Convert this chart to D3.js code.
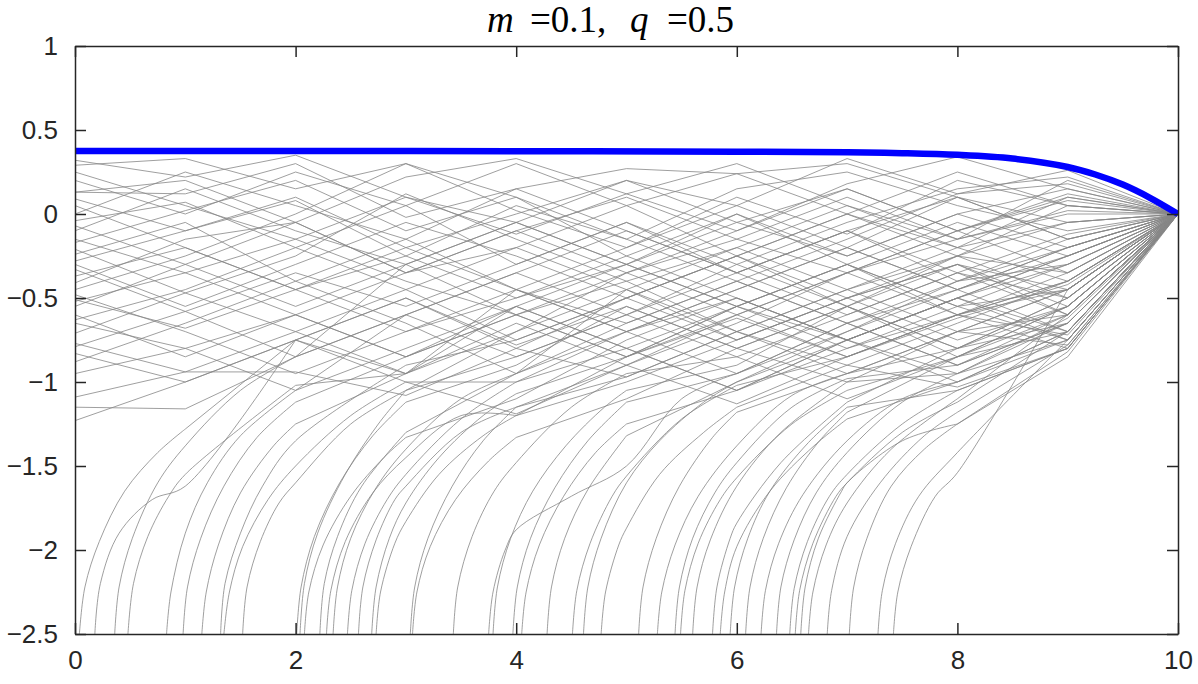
<!DOCTYPE html>
<html>
<head>
<meta charset="utf-8">
<script src="https://cdn.jsdelivr.net/npm/d3@7"></script>
<style>
  body { margin: 0; background: #fff; }
  svg { display: block; }
</style>
</head>
<body>
<div id="chart"></div>
<script>
var xTicks = [0, 2, 4, 6, 8, 10];
var yTicks = [1, 0.5, 0, -0.5, -1, -1.5, -2, -2.5];

// sample times for the paths that start inside the window
var steps = [0, 1, 2, 3, 4, 5, 6, 7, 8, 9, 10];

// blue curve
var meanX = [0, 2, 4, 6, 7, 7.5, 8, 8.5, 9, 9.25, 9.5, 9.75, 10];
var meanY = [0.375, 0.375, 0.374, 0.371, 0.367, 0.362, 0.352, 0.33, 0.28, 0.235, 0.175, 0.095, 0.0];

// grey paths that are already in view at t = 0 (value at each step)
var walks = [
  [0.32, 0.22, 0.35, 0.10, -0.05, 0.20, 0.05, 0.33, 0.12, 0.26, 0],
  [0.29, 0.33, 0.15, 0.30, 0.02, -0.20, 0.10, -0.12, 0.20, 0.05, 0],
  [0.13, 0.20, -0.05, 0.22, 0.33, 0.12, -0.10, 0.18, 0.34, 0.15, 0],
  [0.13, 0.12, 0.30, -0.02, 0.15, 0.27, 0.24, 0.00, -0.20, 0.10, 0],
  [0.09, -0.10, 0.08, -0.25, 0.05, -0.15, 0.15, 0.25, 0.05, -0.10, 0],
  [-0.04, 0.07, -0.20, 0.05, -0.30, -0.05, -0.30, -0.05, 0.15, 0.22, 0],
  [-0.07, -0.30, -0.05, -0.35, -0.10, 0.10, -0.15, 0.10, -0.15, 0.02, 0],
  [-0.17, 0.02, 0.20, -0.10, 0.10, -0.25, 0.00, -0.30, -0.05, -0.25, 0],
  [-0.21, -0.47, -0.25, 0.12, -0.15, -0.40, -0.20, -0.45, -0.25, -0.05, 0],
  [-0.24, -0.05, -0.40, -0.15, -0.45, -0.20, 0.05, -0.20, 0.10, -0.15, 0],
  [-0.28, -0.10, 0.10, -0.20, 0.00, 0.20, -0.05, 0.15, -0.10, 0.08, 0],
  [-0.33, -0.58, -0.35, -0.55, -0.30, -0.05, -0.35, -0.10, -0.40, -0.30, 0],
  [-0.37, -0.20, -0.45, -0.25, -0.50, -0.30, -0.55, -0.30, -0.55, -0.45, 0],
  [-0.41, -0.15, -0.05, -0.35, -0.20, 0.05, -0.25, -0.50, -0.30, -0.55, 0],
  [-0.51, -0.68, -0.45, -0.70, -0.45, -0.65, -0.40, -0.65, -0.45, -0.20, 0],
  [-0.55, -0.30, -0.55, -0.30, -0.60, -0.40, -0.70, -0.45, -0.70, -0.60, 0],
  [-0.63, -0.45, -0.20, -0.45, -0.75, -0.50, -0.25, -0.55, -0.80, -0.65, 0],
  [-0.65, -0.80, -0.60, -0.85, -0.55, -0.80, -0.55, -0.30, -0.60, -0.40, 0],
  [-0.71, -0.47, -0.70, -0.45, -0.20, -0.45, -0.75, -0.50, -0.25, -0.35, 0],
  [-0.77, -0.94, -0.70, -0.95, -0.70, -0.45, -0.70, -0.95, -0.70, -0.78, 0],
  [-0.79, -0.58, -0.85, -0.60, -0.35, -0.60, -0.35, -0.60, -0.35, -0.50, 0],
  [-0.83, -1.00, -0.75, -0.50, -0.78, -0.55, -0.80, -0.55, -0.85, -0.70, 0],
  [-0.95, -0.80, -1.05, -0.80, -0.55, -0.80, -1.05, -0.80, -0.60, -0.72, 0],
  [-1.09, -0.94, -0.94, -1.08, -0.80, -0.97, -0.70, -0.90, -1.03, -0.80, 0],
  [-1.15, -1.16, -0.85, -0.60, -0.85, -0.60, -0.85, -1.10, -0.85, -0.55, 0],
  [-1.23, -1.00, -0.75, -1.00, -1.19, -0.90, -1.13, -0.85, -0.60, -0.45, 0],
  [0.20, 0.00, 0.25, 0.05, 0.30, 0.05, 0.24, 0.30, 0.10, -0.05, 0],
  [-0.45, -0.25, 0.00, 0.30, 0.10, -0.15, -0.40, -0.15, 0.12, 0.18, 0],
  [0.05, -0.20, -0.45, -0.20, -0.45, -0.70, -0.45, -0.20, -0.45, -0.25, 0],
  [-0.60, -0.85, -0.60, -0.35, -0.10, -0.35, -0.10, 0.15, -0.10, 0.12, 0],
  [0.25, 0.05, -0.15, 0.10, -0.12, 0.12, 0.30, 0.05, -0.15, 0.20, 0],
  [-0.10, 0.15, -0.10, -0.30, -0.05, -0.30, -0.05, -0.25, 0.00, -0.20, 0],
  [-0.30, -0.55, -0.30, -0.05, -0.25, -0.50, -0.25, 0.00, 0.25, 0.05, 0],
  [-0.48, -0.70, -0.95, -0.70, -0.50, -0.25, -0.50, -0.75, -0.50, -0.30, 0],
  [0.00, 0.25, 0.05, -0.15, 0.15, -0.10, -0.35, -0.10, -0.35, -0.12, 0],
  [-0.15, -0.35, -0.60, -0.85, -0.60, -0.85, -0.62, -0.85, -0.62, -0.42, 0],
  [-0.52, -0.35, -0.15, -0.40, -0.60, -0.35, -0.15, -0.35, -0.15, 0.00, 0],
  [-0.88, -0.65, -0.40, -0.65, -0.95, -0.70, -0.50, -0.75, -0.95, -0.62, 0]
];

// grey paths that come up through the bottom edge: [t, value] points
var risers = [
  [[0.04,-2.5],[0.09,-2.22],[0.22,-1.95],[0.45,-1.65],[0.75,-1.42],[1,-1.28],[2,-0.75],[3,-0.5],[4,-0.8],[5,-0.5],[6,-0.75],[7,-0.5],[8,-0.3],[9,-0.6],[10,0]],
  [[0.18,-2.5],[0.23,-2.2],[0.4,-1.9],[0.7,-1.7],[1,-1.62],[2,-0.75],[3,-0.95],[4,-0.45],[5,-0.7],[6,-0.45],[7,-0.2],[8,-0.45],[9,-0.2],[10,0]],
  [[0.36,-2.5],[0.4,-2.22],[0.52,-1.93],[0.75,-1.6],[1,-1.38],[1.5,-1.05],[2,-0.85],[3,-0.3],[4,-0.05],[5,-0.3],[6,0.0],[7,-0.25],[8,0.0],[9,0.15],[10,0]],
  [[0.48,-2.5],[0.53,-2.2],[0.66,-1.92],[0.85,-1.68],[1,-1.55],[2,-1.02],[3,-0.95],[4,-0.65],[5,-0.9],[6,-0.6],[7,-0.85],[8,-0.6],[9,-0.35],[10,0]],
  [[0.83,-2.5],[0.87,-2.25],[1,-1.9],[1.2,-1.6],[1.5,-1.32],[2,-1.05],[3,-0.6],[4,-0.35],[5,-0.1],[6,-0.35],[7,-0.1],[8,0.1],[9,-0.15],[10,0]],
  [[0.98,-2.5],[1.02,-2.22],[1.14,-1.93],[1.35,-1.62],[1.65,-1.33],[2,-1.12],[3,-0.85],[4,-0.6],[5,-0.85],[6,-0.55],[7,-0.3],[8,-0.55],[9,-0.75],[10,0]],
  [[1.15,-2.5],[1.19,-2.25],[1.3,-1.97],[1.5,-1.66],[1.8,-1.38],[2,-1.25],[3,-0.95],[4,-0.55],[5,-0.3],[6,-0.55],[7,-0.75],[8,-0.5],[9,-0.25],[10,0]],
  [[1.32,-2.5],[1.36,-2.2],[1.5,-1.9],[1.7,-1.62],[2,-1.35],[3,-0.9],[4,-0.75],[5,-0.5],[6,-0.25],[7,0.0],[8,-0.25],[9,0.05],[10,0]],
  [[1.35,-2.5],[1.4,-2.25],[1.52,-1.98],[1.75,-1.7],[2,-1.5],[2.5,-1.2],[3,-1.0],[4,-1.0],[5,-0.7],[6,-0.95],[7,-0.65],[8,-0.9],[9,-0.6],[10,0]],
  [[1.52,-2.5],[1.56,-2.22],[1.68,-1.95],[1.85,-1.72],[2,-1.6],[2.5,-1.25],[3,-1.05],[4,-0.85],[5,-0.6],[6,-0.3],[7,-0.55],[8,-0.3],[9,-0.45],[10,0]],
  [[2.01,-2.5],[2.05,-2.22],[2.17,-1.92],[2.4,-1.6],[2.7,-1.32],[3,-1.12],[4,-0.9],[5,-0.55],[6,-0.8],[7,-0.55],[8,-0.8],[9,-0.5],[10,0]],
  [[2.04,-2.5],[2.08,-2.2],[2.2,-1.9],[2.45,-1.55],[2.75,-1.25],[3,-1.05],[4,-0.7],[5,-0.35],[6,-0.6],[7,-0.35],[8,-0.1],[9,-0.35],[10,0]],
  [[2.08,-2.5],[2.12,-2.25],[2.25,-1.97],[2.5,-1.68],[2.8,-1.45],[3,-1.33],[4,-1.1],[5,-0.75],[6,-0.5],[7,-0.75],[8,-0.5],[9,-0.7],[10,0]],
  [[2.22,-2.5],[2.26,-2.2],[2.38,-1.92],[2.6,-1.62],[3,-1.3],[4,-0.95],[5,-0.45],[6,-0.2],[7,0.05],[8,-0.2],[9,-0.05],[10,0]],
  [[2.28,-2.5],[2.32,-2.24],[2.45,-1.95],[2.7,-1.66],[3,-1.45],[3.5,-1.2],[4,-1.2],[5,-0.85],[6,-0.6],[7,-0.35],[8,-0.6],[9,-0.4],[10,0]],
  [[2.34,-2.5],[2.38,-2.22],[2.5,-1.93],[2.72,-1.64],[3,-1.4],[3.5,-1.1],[4,-0.95],[5,-0.65],[6,-0.4],[7,-0.65],[8,-0.4],[9,-0.15],[10,0]],
  [[2.47,-2.5],[2.51,-2.24],[2.63,-1.96],[2.83,-1.7],[3,-1.55],[3.5,-1.22],[4,-1.0],[5,-0.8],[6,-1.05],[7,-0.75],[8,-0.5],[9,-0.75],[10,0]],
  [[2.57,-2.5],[2.61,-2.22],[2.73,-1.94],[2.9,-1.7],[3,-1.62],[3.5,-1.3],[4,-1.15],[5,-0.97],[6,-0.7],[7,-0.45],[8,-0.2],[9,-0.4],[10,0]],
  [[2.69,-2.5],[2.73,-2.22],[2.85,-1.93],[3,-1.72],[3.3,-1.45],[3.7,-1.2],[4,-1.07],[5,-0.85],[6,-0.55],[7,-0.8],[8,-0.55],[9,-0.3],[10,0]],
  [[2.73,-2.5],[2.77,-2.25],[2.9,-1.96],[3,-1.83],[3.3,-1.55],[3.7,-1.32],[4,-1.2],[5,-1.0],[6,-0.75],[7,-0.5],[8,-0.75],[9,-0.55],[10,0]],
  [[3.04,-2.5],[3.08,-2.22],[3.2,-1.93],[3.42,-1.62],[3.7,-1.35],[4,-1.15],[5,-0.9],[6,-0.65],[7,-0.35],[8,-0.1],[9,0.1],[10,0]],
  [[3.06,-2.5],[3.1,-2.25],[3.22,-1.98],[3.45,-1.7],[3.75,-1.47],[4,-1.33],[5,-1.1],[6,-0.8],[7,-1.0],[8,-0.7],[9,-0.45],[10,0]],
  [[3.43,-2.5],[3.47,-2.22],[3.6,-1.92],[3.8,-1.65],[4,-1.48],[4.5,-1.15],[5,-0.95],[6,-0.85],[7,-0.6],[8,-0.35],[9,-0.6],[10,0]],
  [[3.75,-2.5],[3.79,-2.25],[3.9,-2.0],[4,-1.88],[4.5,-1.68],[5,-1.5],[5.5,-1.1],[6,-0.95],[7,-0.65],[8,-0.9],[9,-0.65],[10,0]],
  [[3.79,-2.5],[3.83,-2.22],[3.95,-1.93],[4.15,-1.65],[4.45,-1.38],[4.8,-1.15],[5,-1.05],[6,-0.9],[7,-0.55],[8,-0.25],[9,-0.5],[10,0]],
  [[3.97,-2.5],[4.01,-2.22],[4.13,-1.93],[4.35,-1.63],[4.65,-1.35],[5,-1.12],[6,-0.95],[7,-0.7],[8,-0.45],[9,-0.7],[10,0]],
  [[4.05,-2.5],[4.09,-2.25],[4.21,-1.97],[4.43,-1.68],[4.72,-1.42],[5,-1.25],[6,-1.05],[7,-0.75],[8,-1.0],[9,-0.7],[10,0]],
  [[4.28,-2.5],[4.32,-2.22],[4.44,-1.93],[4.65,-1.64],[5,-1.32],[6,-1.0],[7,-0.7],[8,-0.4],[9,-0.2],[10,0]],
  [[4.51,-2.5],[4.55,-2.24],[4.67,-1.96],[4.87,-1.68],[5,-1.56],[5.5,-1.22],[6,-1.02],[7,-0.85],[8,-0.6],[9,-0.8],[10,0]],
  [[4.61,-2.5],[4.65,-2.22],[4.77,-1.93],[5,-1.6],[5.3,-1.35],[5.7,-1.12],[6,-1.0],[7,-0.75],[8,-0.5],[9,-0.25],[10,0]],
  [[4.77,-2.5],[4.81,-2.25],[4.93,-1.97],[5,-1.87],[5.3,-1.55],[5.7,-1.3],[6,-1.15],[7,-0.9],[8,-0.65],[9,-0.4],[10,0]],
  [[5.11,-2.5],[5.15,-2.22],[5.27,-1.93],[5.48,-1.62],[5.78,-1.33],[6,-1.18],[7,-0.95],[8,-0.7],[9,-0.45],[10,0]],
  [[5.28,-2.5],[5.32,-2.25],[5.44,-1.97],[5.65,-1.68],[6,-1.38],[6.5,-1.08],[7,-0.95],[8,-0.8],[9,-0.55],[10,0]],
  [[5.44,-2.5],[5.48,-2.22],[5.6,-1.93],[5.8,-1.66],[6,-1.48],[6.5,-1.15],[7,-0.98],[8,-0.9],[9,-0.65],[10,0]],
  [[5.49,-2.5],[5.53,-2.24],[5.65,-1.96],[5.85,-1.7],[6,-1.57],[6.5,-1.25],[7,-1.05],[8,-0.85],[9,-0.6],[10,0]],
  [[5.60,-2.5],[5.64,-2.22],[5.76,-1.94],[6,-1.62],[6.4,-1.3],[7,-1.0],[8,-0.95],[9,-0.75],[10,0]],
  [[5.78,-2.5],[5.82,-2.22],[5.94,-1.93],[6,-1.84],[6.4,-1.48],[7,-1.12],[8,-0.8],[9,-0.5],[10,0]],
  [[5.85,-2.5],[5.89,-2.25],[6,-1.98],[6.3,-1.65],[6.7,-1.38],[7,-1.22],[8,-1.0],[9,-0.7],[10,0]],
  [[5.94,-2.5],[5.98,-2.22],[6.1,-1.93],[6.3,-1.65],[6.65,-1.36],[7,-1.15],[8,-1.05],[9,-0.8],[10,0]],
  [[6.08,-2.5],[6.12,-2.22],[6.24,-1.93],[6.45,-1.63],[6.75,-1.35],[7,-1.18],[8,-0.85],[9,-0.55],[10,0]],
  [[6.22,-2.5],[6.26,-2.24],[6.38,-1.96],[6.6,-1.67],[7,-1.35],[7.5,-1.1],[8,-1.0],[9,-0.75],[10,0]],
  [[6.36,-2.5],[6.4,-2.22],[6.52,-1.94],[6.72,-1.66],[7,-1.42],[7.5,-1.12],[8,-0.95],[9,-0.65],[10,0]],
  [[6.48,-2.5],[6.52,-2.23],[6.64,-1.95],[6.84,-1.68],[7,-1.55],[7.5,-1.25],[8,-1.05],[9,-0.8],[10,0]],
  [[6.53,-2.5],[6.57,-2.24],[6.69,-1.96],[6.9,-1.68],[7,-1.6],[7.5,-1.3],[8,-1.12],[9,-0.7],[10,0]],
  [[6.58,-2.5],[6.62,-2.22],[6.74,-1.93],[6.95,-1.65],[7,-1.6],[7.5,-1.35],[8,-1.25],[9,-0.85],[10,0]],
  [[6.65,-2.5],[6.69,-2.25],[6.81,-1.97],[7,-1.72],[7.4,-1.4],[8,-1.1],[9,-0.6],[10,0]],
  [[6.82,-2.5],[6.86,-2.24],[7,-1.92],[7.3,-1.6],[7.7,-1.32],[8,-1.18],[9,-0.78],[10,0]],
  [[7.02,-2.5],[7.06,-2.22],[7.18,-1.93],[7.4,-1.62],[7.7,-1.4],[8,-1.25],[9,-0.82],[10,0]],
  [[7.28,-2.5],[7.32,-2.24],[7.44,-1.96],[7.65,-1.68],[8,-1.42],[9,-0.75],[10,0]],
  [[7.42,-2.5],[7.46,-2.25],[7.58,-1.98],[7.8,-1.68],[8,-1.54],[9,-0.45],[10,0]]
];

// title pieces and where each one starts
var titleText = ['m', '=0.1,', 'q', '=0.5'];
var titleX = [487, 530, 630, 667];
var titleItalic = [true, false, true, false];

var margin = {top: 46, right: 20, bottom: 50, left: 75};
var width = 1103;
var height = 588;

var svg = d3.select('#chart').append('svg')
    .attr('width', 1198)
    .attr('height', 684);

var g = svg.append('g')
    .attr('transform', `translate(${margin.left}, ${margin.top})`);

var xScale = d3.scaleLinear().domain([0, 10]).range([0, width]);
var yScale = d3.scaleLinear().domain([-2.5, 1]).range([height, 0]);

g.append('clipPath').attr('id', 'plot-clip')
  .append('rect').attr('width', width).attr('height', height);

var plot = g.append('g').attr('clip-path', 'url(#plot-clip)');

var straight = d3.line()
    .x(d => xScale(d[0]))
    .y(d => yScale(d[1]));

var bent = d3.line()
    .x(d => xScale(d[0]))
    .y(d => yScale(d[1]))
    .curve(d3.curveCatmullRom.alpha(0.5));

var grey = '#878787';

walks.forEach(function(w) {
  plot.append('path')
    .attr('d', straight(w.map((v, i) => [steps[i], v])))
    .attr('fill', 'none')
    .attr('stroke', grey)
    .attr('stroke-width', 0.8);
});

risers.forEach(function(r) {
  // the low part bends, once it is back in the band it runs straight
  var cut = r.findIndex((p, i) => i > 0 && Number.isInteger(p[0]) && p[1] > -1.35);
  if (cut < 0) cut = r.length - 1;
  plot.append('path')
    .attr('d', bent(r.slice(0, cut + 1)))
    .attr('fill', 'none')
    .attr('stroke', grey)
    .attr('stroke-width', 0.8);
  plot.append('path')
    .attr('d', straight(r.slice(cut)))
    .attr('fill', 'none')
    .attr('stroke', grey)
    .attr('stroke-width', 0.8);
});

plot.append('path')
  .attr('d', bent(meanX.map((x, i) => [x, meanY[i]])))
  .attr('fill', 'none')
  .attr('stroke', '#0000ff')
  .attr('stroke-width', 6.5);

// box with inward ticks on all four sides
var axisFont = '"Liberation Sans", Arial, sans-serif';

function styleAxis(sel) {
  sel.select('.domain').attr('stroke', '#262626').attr('stroke-width', 1.5);
  sel.selectAll('.tick line').attr('stroke', '#262626').attr('stroke-width', 1.5);
  sel.selectAll('.tick text')
    .attr('fill', '#262626')
    .style('font-family', axisFont)
    .style('font-size', '26px');
}

g.append('g')
  .attr('transform', `translate(0,${height})`)
  .call(d3.axisBottom(xScale).tickValues(xTicks).tickSizeInner(-11).tickSizeOuter(0).tickPadding(17))
  .call(styleAxis);

g.append('g')
  .call(d3.axisTop(xScale).tickValues(xTicks).tickSizeInner(-11).tickSizeOuter(0).tickFormat(''))
  .call(styleAxis);

// MATLAB writes a real minus sign
g.append('g')
  .call(d3.axisLeft(yScale).tickValues(yTicks).tickSizeInner(-11).tickSizeOuter(0).tickPadding(17)
    .tickFormat(d => String(d).replace('-', '\u2212')))
  .call(styleAxis);

g.append('g')
  .attr('transform', `translate(${width},0)`)
  .call(d3.axisRight(yScale).tickValues(yTicks).tickSizeInner(-11).tickSizeOuter(0).tickFormat(''))
  .call(styleAxis);

var title = svg.append('text')
    .attr('y', 32)
    .style('font-family', '"Liberation Serif", "DejaVu Serif", serif')
    .style('font-size', '37px')
    .attr('fill', '#000');
titleText.forEach(function(t, i) {
  title.append('tspan')
    .attr('x', titleX[i])
    .style('font-style', titleItalic[i] ? 'italic' : 'normal')
    .text(t);
});
</script>
</body>
</html>
